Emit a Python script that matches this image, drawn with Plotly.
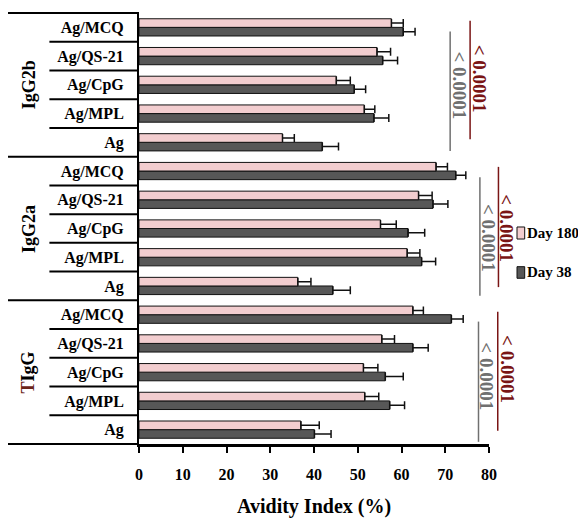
import plotly.graph_objects as go

# ---- data (bottom-to-top order within each group) ----
groups = ["TIgG", "IgG2a", "IgG2b"]
categories = ["Ag", "Ag/MPL", "Ag/CpG", "Ag/QS-21", "Ag/MCQ"]

day180_tigg = [37.0, 51.6, 51.3, 55.5, 62.6]
day180_tigg_err = [4.2, 3.2, 3.3, 2.9, 2.4]
day38_tigg = [40.1, 57.3, 56.3, 62.6, 71.4]
day38_tigg_err = [3.8, 3.4, 4.1, 3.5, 2.7]

day180_igg2a = [36.3, 61.3, 55.2, 63.9, 67.9]
day180_igg2a_err = [3.0, 2.9, 3.6, 3.1, 2.6]
day38_igg2a = [44.3, 64.6, 61.5, 67.2, 72.4]
day38_igg2a_err = [4.0, 3.2, 3.8, 3.4, 2.3]

day180_igg2b = [32.8, 51.5, 45.1, 54.4, 57.7]
day180_igg2b_err = [2.7, 2.4, 3.2, 3.1, 2.7]
day38_igg2b = [41.9, 53.7, 49.2, 55.7, 60.4]
day38_igg2b_err = [3.7, 3.4, 2.6, 3.4, 2.7]

series_names = ["Day 180", "Day 38"]
p_values = ["&lt; 0.0001", "&lt; 0.0001"]  # (Day 180 comparison, Day 38 comparison) per group
x_ticks = [0, 10, 20, 30, 40, 50, 60, 70, 80]

day180 = day180_tigg + day180_igg2a + day180_igg2b
day180_err = day180_tigg_err + day180_igg2a_err + day180_igg2b_err
day38 = day38_tigg + day38_igg2a + day38_igg2b
day38_err = day38_tigg_err + day38_igg2a_err + day38_igg2b_err

n_cat = len(categories)
n_rows = n_cat * len(groups)
ypos = list(range(n_rows))
yticktext = categories * len(groups)

SERIF = "Liberation Serif"
PINK = "#f2cdcf"
DARK = "#575757"
GRAY = "#707070"
RED = "#7a1515"
EDGE = "#111111"

fig = go.Figure()
fig.add_trace(go.Bar(
    name=series_names[1], y=ypos, x=day38, orientation="h",
    marker=dict(color=DARK, line=dict(color=EDGE, width=1)),
    error_x=dict(type="data", symmetric=False, array=day38_err,
                 arrayminus=[0] * n_rows, color=EDGE, thickness=1.5, width=4),
))
fig.add_trace(go.Bar(
    name=series_names[0], y=ypos, x=day180, orientation="h",
    marker=dict(color=PINK, line=dict(color=EDGE, width=1)),
    error_x=dict(type="data", symmetric=False, array=day180_err,
                 arrayminus=[0] * n_rows, color=EDGE, thickness=1.5, width=4),
))

shapes = []
# row separators in label area
for k in range(n_rows + 1):
    yp = k / n_rows
    is_group = (k % n_cat == 0)
    shapes.append(dict(type="line", xref="paper", yref="paper",
                       x0=-0.376 if is_group else -0.256, x1=0, y0=yp, y1=yp,
                       line=dict(color="black", width=2)))

annotations = []
# group labels
for gi, g in enumerate(groups):
    yc = (gi * n_cat + (n_cat - 1) / 2 + 0.5) / n_rows
    label = g if g != "TIgG" else "<span style='color:#6b2418'>T</span>IgG"
    annotations.append(dict(text=label, xref="paper", yref="paper", x=-0.316, y=yc,
                            xanchor="center", yanchor="middle",
                            textangle=-90, showarrow=False,
                            font=dict(family=SERIF, size=18, color="black", weight="bold")))

# significance brackets (gray: Day 180, dark red: Day 38)
brackets = {
    "IgG2b": [(0.889, 0.680, 0.957, 0.913, 0.833), (0.946, 0.707, 0.982, 0.972, 0.847)],
    "IgG2a": [(0.974, 0.344, 0.619, 0.997, 0.478), (1.027, 0.364, 0.643, 1.051, 0.501)],
    "TIgG": [(0.970, 0.005, 0.284, 0.993, 0.158), (1.025, 0.031, 0.307, 1.054, 0.174)],
}
for g in groups:
    for (xl, y0, y1, xt, yt), col, pv in zip(brackets[g], [GRAY, RED], p_values):
        shapes.append(dict(type="line", xref="paper", yref="paper", x0=xl, x1=xl,
                           y0=y0, y1=y1, line=dict(color=col, width=1.5)))
        annotations.append(dict(text=pv, xref="paper", yref="paper", x=xt, y=yt,
                                xanchor="center", yanchor="middle",
                                textangle=90, showarrow=False,
                                font=dict(family=SERIF, size=19, color=col, weight="bold")))

# legend (drawn as key boxes + labels)
legend_items = [(series_names[0], PINK, 0.4756, 0.5035), (series_names[1], DARK, 0.3845, 0.4114)]
for name, col, y0, y1 in legend_items:
    shapes.append(dict(type="rect", xref="paper", yref="paper", x0=1.080, x1=1.102,
                       y0=y0, y1=y1, fillcolor=col, line=dict(color=EDGE, width=1)))
    annotations.append(dict(text=name, xref="paper", yref="paper", x=1.102,
                            y=(y0 + y1) / 2, xanchor="left", yanchor="middle",
                            showarrow=False,
                            font=dict(family=SERIF, size=15, color="black", weight="bold")))

annotations.append(dict(text="Avidity Index (%)", xref="paper", yref="paper",
                        x=0.5, y=-0.146, showarrow=False, xanchor="center", yanchor="middle",
                        font=dict(family=SERIF, size=20, color="black", weight="bold")))

fig.update_layout(
    width=578, height=513,
    margin=dict(l=131, r=97, t=5, b=77, autoexpand=False),
    paper_bgcolor="white", plot_bgcolor="white",
    barmode="group", bargap=0.4, bargroupgap=0,
    shapes=shapes, annotations=annotations,
    showlegend=False,
    xaxis=dict(range=[0, 80], tickvals=x_ticks, showgrid=False, zeroline=False,
               showline=True, linecolor="black", linewidth=2.5,
               ticks="outside", ticklen=6, tickwidth=1.5, tickcolor="black",
               ticklabelstandoff=8, automargin=False,
               tickfont=dict(family=SERIF, size=16, color="black", weight="bold")),
    yaxis=dict(range=[-0.5, n_rows - 0.5], tickvals=ypos, ticktext=yticktext,
               showgrid=False, zeroline=False, showline=True, linecolor="black",
               linewidth=2, ticks="", ticklabelstandoff=10, automargin=False,
               tickfont=dict(family=SERIF, size=16, color="black", weight="bold")),
)

fig.write_html("out.html")
